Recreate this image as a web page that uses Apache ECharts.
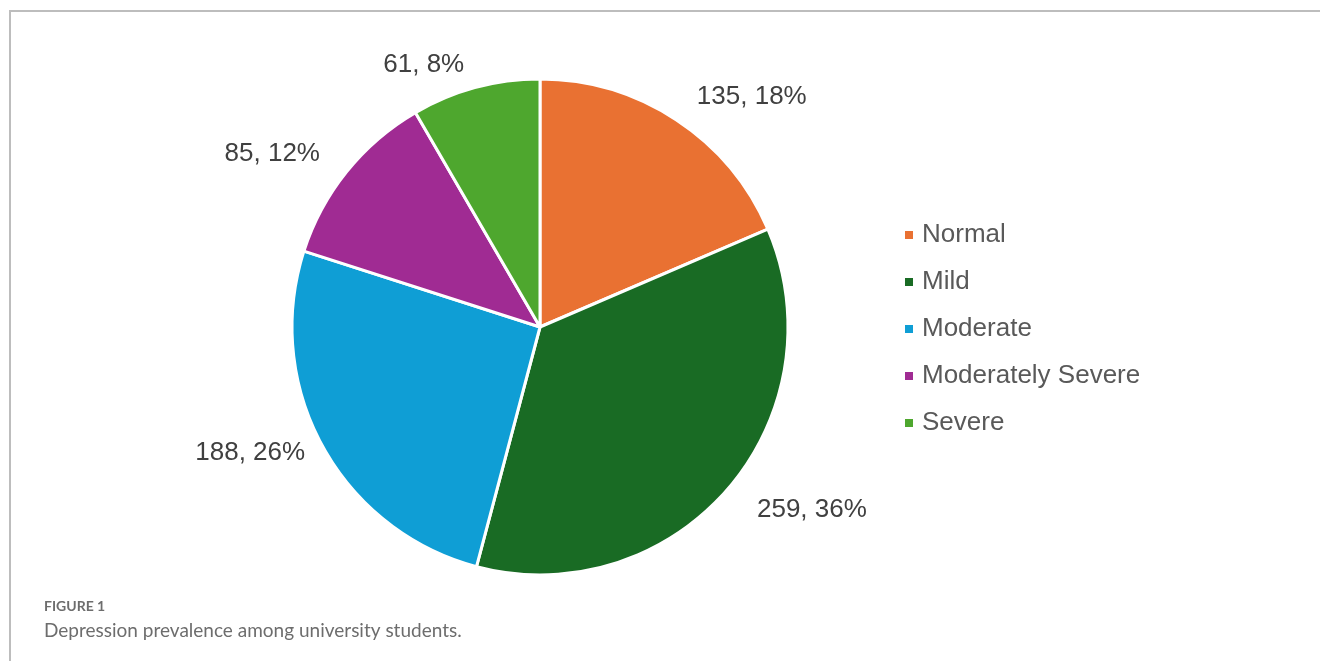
<!DOCTYPE html>
<html>
<head>
<meta charset="utf-8">
<script src="https://cdn.jsdelivr.net/npm/echarts@6/dist/echarts.min.js"></script>
<style>
html, body { margin: 0; padding: 0; background: #fff; }
#frame { position: absolute; left: 9px; top: 10px; width: 1311px; height: 651px;
  border-top: 2px solid #bdbdbd; border-left: 2px solid #bdbdbd; box-sizing: border-box; }
#chart { position: absolute; left: 0; top: 0; width: 1320px; height: 661px; }
</style>
</head>
<body>
<div id="frame"></div>
<div id="chart"></div>
<script>
var categories = ['Normal', 'Mild', 'Moderate', 'Moderately Severe', 'Severe'];
var counts = [135, 259, 188, 85, 61];
var percents = [18, 36, 26, 12, 8];
var colors = ['#E97132', '#196B24', '#0F9ED5', '#A02B93', '#4EA72E'];
// how far each label sits outside its slice
var labelGaps = [28, 32, 14, 28, 24];

function draw() {
	var myChart = echarts.init(document.getElementById('chart'));
	var data = categories.map(function (name, i) {
		return {
			name: name, value: counts[i], pct: percents[i],
			itemStyle: { color: colors[i] },
			labelLine: { length: labelGaps[i] }
		};
	});
	var option = {
		animation: false,
		title: {
			text: 'FIGURE 1',
			subtext: 'Depression prevalence among university students.',
			left: 44,
			top: 599,
			padding: 0,
			itemGap: 8,
			textStyle: { fontFamily: 'Lato', fontSize: 14, fontWeight: 'bold', color: '#6d6d6d' },
			subtextStyle: { fontFamily: 'Lato', fontSize: 19, color: '#6d6d6d' }
		},
		legend: {
			orient: 'vertical',
			left: 898,
			top: 217,
			itemWidth: 10,
			itemHeight: 10,
			itemGap: 21,
			icon: 'rect',
			data: categories,
			textStyle: { fontFamily: 'Liberation Sans', fontSize: 26, lineHeight: 26, color: '#595959', padding: [0, 0, 0, 3] }
		},
		series: [{
			type: 'pie',
			center: [540, 327],
			radius: [0, 248],
			startAngle: 90,
			clockwise: true,
			avoidLabelOverlap: false,
			itemStyle: { borderColor: '#fff', borderWidth: 3 },
			label: {
				show: true,
				position: 'outside',
				fontFamily: 'Liberation Sans',
				fontSize: 26,
				color: '#404040',
				formatter: function (p) { return p.value + ', ' + p.data.pct + '%'; }
			},
			labelLine: { show: true, length: 28, length2: 0, lineStyle: { opacity: 0 } },
			data: data
		}]
	};
	myChart.setOption(option);
}
draw();
</script>
</body>
</html>
